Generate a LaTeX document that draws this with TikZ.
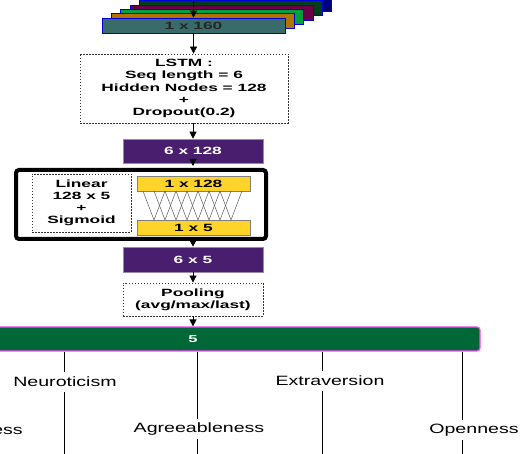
\documentclass[tikz,border=0pt]{standalone}
\usepackage{fontspec}
\setmainfont{Liberation Sans}
\newfontfamily\bxfont[FakeStretch=1.65]{Liberation Sans}
\newfontfamily\lbfont[FakeStretch=1.45]{Liberation Sans}
\usetikzlibrary{arrows.meta,calc}
\definecolor{cteal}{HTML}{386B6A}
\definecolor{corange}{HTML}{B37300}
\definecolor{cgreen}{HTML}{00A040}
\definecolor{cmag}{HTML}{6A0045}
\definecolor{cdkgreen}{HTML}{003D18}
\definecolor{cnavy}{HTML}{00007A}
\definecolor{cpurple}{HTML}{4A1E6E}
\definecolor{cpurpleb}{HTML}{9A88B0}
\definecolor{cyel}{HTML}{FFD42A}
\definecolor{cbar}{HTML}{006836}
\definecolor{cpink}{HTML}{FF44FF}
\begin{document}
\begin{tikzpicture}[x=1pt,y=-1pt,
  layer/.style={draw=blue!85!black, line width=0.6pt, minimum width=183pt, minimum height=15pt, inner sep=0pt,
    font=\bxfont\bfseries\fontsize{10.5}{12}\selectfont, text=black!85},
  pbox/.style={fill=cpurple, draw=cpurpleb, line width=0.6pt, minimum width=140pt, inner sep=0pt, text=white,
    font=\bxfont\bfseries\fontsize{10.5}{12}\selectfont},
  dotbox/.style={draw=black!80, dash pattern=on 1.5pt off 1.5pt, line width=0.8pt, align=center, inner sep=0pt,
    font=\bxfont\bfseries\fontsize{10.5}{12.2}\selectfont},
  ybox/.style={fill=cyel, draw=gray, line width=0.6pt, minimum width=113pt, minimum height=15pt, inner sep=0pt,
    font=\bxfont\bfseries\fontsize{10.5}{12}\selectfont},
  arr/.style={-{Triangle[width=7pt,length=7pt]}, line width=0.8pt},
  trait/.style={font=\lbfont\fontsize{13.5}{15}\selectfont, inner sep=0pt, minimum height=20pt},
  outl/.style={line width=1pt}
]
\useasboundingbox (0,0) rectangle (520,454);
% stacked input layers
\node[layer, fill=cnavy] (l6) at (240,4) {};
\node[layer, fill=cdkgreen] (l5) at (230.7,8.3) {};
\node[layer, fill=cmag] (l4) at (221.4,12.6) {};
\node[layer, fill=cgreen] (l3) at (212.1,16.9) {};
\node[layer, fill=corange] (l2) at (202.8,21.2) {};
\node[layer, fill=cteal] (front) at (193.5,25.5) {1 x 160};
\coordinate (top) at (193.5,-2);
\draw[arr] (top) -- (front.north);
% LSTM
\node[dotbox, minimum width=208pt, minimum height=69pt] (lstm) at (184,88.5)
  {LSTM :\\Seq length = 6\\Hidden Nodes = 128\\+\\Dropout(0.2)};
\draw[arr] (front.south) -- (lstm.north -| front.south);
\node[pbox, minimum height=24pt] (p128) at (193,151) {6 x 128};
\draw[arr] (lstm.south -| p128.north) -- (p128.north);
% linear block
\node[draw=black, line width=4pt, rounded corners=3pt, minimum width=250pt, minimum height=69pt, inner sep=0pt] (big) at (141,204.5) {};
\node[dotbox, minimum width=99pt, minimum height=58pt] (lin) at (81.5,203) {Linear\\128 x 5\\+\\Sigmoid};
\node[ybox] (y1) at (193.5,183.5) {1 x 128};
\node[ybox] (y5) at (193.5,227.5) {1 x 5};
\foreach \j in {0,...,7} {
  \draw[black!65, line width=0.5pt] (143+11*\j,191) -- (154+11*\j,220) -- (165+11*\j,191);
}
\draw[arr] (p128.south) -- ($(big.north -| p128.south)+(0,-2)$);
\node[pbox, minimum height=25pt] (p5) at (193,259.5) {6 x 5};
\draw[arr] ($(big.south -| p5.north)+(0,2)$) -- (p5.north);
\node[dotbox, minimum width=140pt, minimum height=33pt] (pool) at (193,299.5) {Pooling\\(avg/max/last)};
\draw[arr] (p5.south) -- (pool.north);
% output bar
\node[fill=cbar, draw=cpink, line width=1.2pt, rounded corners=3pt, minimum width=500pt, minimum height=24pt, inner sep=0pt] (bar) at (230,339) {};
\node[text=white, font=\bxfont\bfseries\fontsize{10}{12}\selectfont] (five) at (193,339) {5};
\draw[arr] (pool.south) -- (bar.north -| pool.south);
% traits
\node[trait, anchor=east] (t0) at (23,430) {Conscientiousness};
\node[trait] (t1) at (65,382) {Neuroticism};
\node[trait] (t2) at (199,429) {Agreeableness};
\node[trait] (t3) at (330,381) {Extraversion};
\node[trait] (t4) at (474,430) {Openness};
\coordinate (x1) at (64,456);
\coordinate (x2) at (197,456);
\coordinate (x3) at (322,456);
\coordinate (x4) at (462,456);
\draw[outl] (bar.south -| x1) -- (t1.north -| x1);
\draw[outl] (t1.south -| x1) -- (x1);
\draw[outl] (bar.south -| x2) -- (t2.north -| x2);
\draw[outl] (t2.south -| x2) -- (x2);
\draw[outl] (bar.south -| x3) -- (t3.north -| x3);
\draw[outl] (t3.south -| x3) -- (x3);
\draw[outl] (bar.south -| x4) -- (t4.north -| x4);
\draw[outl] (t4.south -| x4) -- (x4);
\end{tikzpicture}
\end{document}
